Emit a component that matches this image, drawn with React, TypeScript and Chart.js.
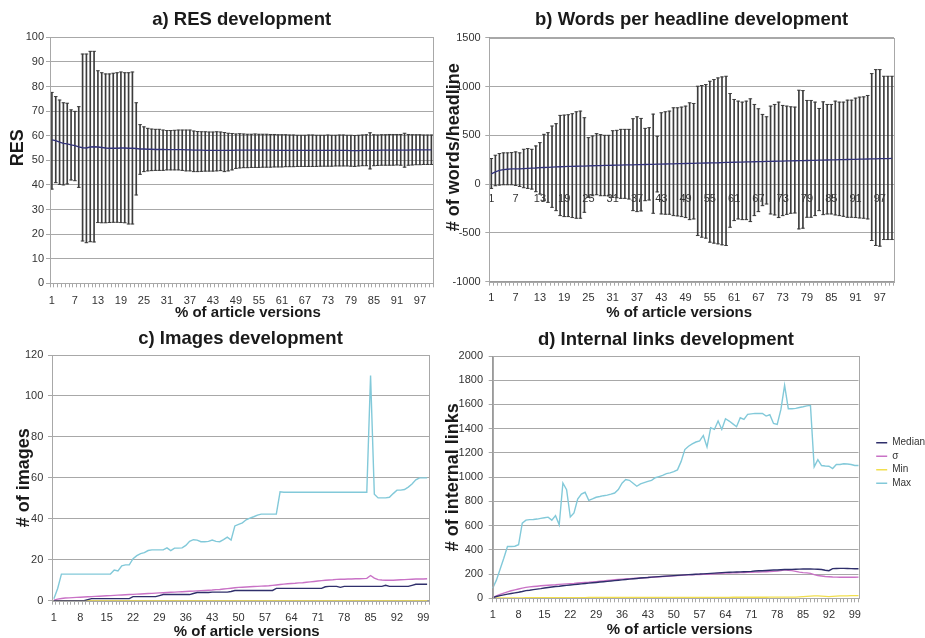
import React, { useEffect, useRef } from 'react';
import { Chart, registerables } from 'chart.js';

Chart.register(...registerables);

// ---------- categories & tick labels ----------
const categories = Array.from({ length: 100 }, (_, i) => String(i + 1));
const shownTicksAB = ['1', '7', '13', '19', '25', '31', '37', '43', '49', '55', '61', '67', '73', '79', '85', '91', '97'];
const shownTicksCD = ['1', '8', '15', '22', '29', '36', '43', '50', '57', '64', '71', '78', '85', '92', '99'];

// ---------- a) RES ----------
const resMean = [
  58.3, 58.0, 57.4, 56.9, 56.7, 56.3, 56.0, 55.5, 55.1, 55.0,
  55.4, 55.5, 55.4, 55.2, 55.0, 54.9, 54.9, 54.9, 55.0, 55.0,
  54.9, 54.9, 54.8, 54.6, 54.6, 54.5, 54.5, 54.4, 54.4, 54.4,
  54.3, 54.3, 54.3, 54.3, 54.3, 54.2, 54.2, 54.1, 54.1, 54.1,
  54.0, 54.0, 54.0, 54.0, 54.0, 54.0, 54.0, 54.0, 54.1, 54.1,
  54.1, 54.1, 54.1, 54.1, 54.1, 54.1, 54.1, 54.1, 54.0, 54.0,
  54.0, 54.0, 54.0, 54.0, 54.0, 54.0, 54.0, 54.0, 54.0, 54.0,
  54.0, 54.0, 54.0, 54.0, 54.0, 54.0, 54.0, 54.0, 53.9, 53.9,
  53.9, 54.0, 54.0, 54.0, 54.0, 54.0, 54.1, 54.1, 54.1, 54.1,
  54.1, 54.1, 54.1, 54.1, 54.2, 54.2, 54.2, 54.2, 54.2, 54.2,
];
const resHigh = [
  77.6, 75.9, 74.5, 73.4, 73.2, 70.5, 69.9, 71.8, 93.2, 93.2,
  94.3, 94.3, 86.4, 85.6, 85.1, 85.1, 85.4, 85.6, 85.9, 85.6,
  85.6, 85.9, 73.4, 64.5, 63.6, 63.0, 62.7, 62.6, 62.6, 62.3,
  62.1, 62.1, 62.2, 62.3, 62.3, 62.3, 62.3, 61.9, 61.7, 61.6,
  61.6, 61.5, 61.5, 61.6, 61.5, 61.3, 61.0, 60.9, 60.7, 60.8,
  60.7, 60.6, 60.6, 60.7, 60.6, 60.6, 60.6, 60.5, 60.5, 60.4,
  60.4, 60.4, 60.3, 60.3, 60.2, 60.2, 60.2, 60.3, 60.3, 60.2,
  60.2, 60.2, 60.3, 60.2, 60.2, 60.3, 60.3, 60.2, 60.2, 60.1,
  60.2, 60.3, 60.4, 61.2, 60.4, 60.3, 60.4, 60.4, 60.5, 60.5,
  60.5, 60.5, 61.0, 60.5, 60.4, 60.4, 60.4, 60.3, 60.3, 60.3,
];
const resLow = [
  38.3, 40.9, 40.2, 40.0, 40.4, 42.0, 41.7, 39.0, 17.2, 16.5,
  16.9, 16.8, 24.7, 24.6, 24.6, 24.7, 24.8, 24.8, 24.7, 24.6,
  24.1, 24.1, 35.9, 44.3, 45.4, 45.7, 45.8, 45.9, 45.9, 45.9,
  46.1, 46.1, 46.1, 46.1, 45.9, 45.7, 45.7, 45.4, 45.4, 45.5,
  45.6, 45.6, 45.6, 45.7, 45.8, 45.4, 45.7, 46.1, 46.7, 46.9,
  47.0, 47.0, 47.1, 47.1, 47.1, 47.2, 47.2, 47.2, 47.3, 47.3,
  47.3, 47.4, 47.4, 47.4, 47.5, 47.5, 47.5, 47.5, 47.5, 47.5,
  47.6, 47.6, 47.6, 47.6, 47.7, 47.7, 47.7, 47.7, 47.6, 47.5,
  47.7, 47.8, 47.8, 46.5, 47.8, 47.9, 48.0, 48.0, 48.0, 48.0,
  48.1, 48.0, 47.2, 48.0, 48.1, 48.2, 48.2, 48.3, 48.3, 48.3,
];

// ---------- b) Words per headline ----------
const wphMean = [
  105, 126, 140, 148, 152, 155, 156, 157, 159, 161,
  163, 165, 168, 170, 172, 174, 176, 178, 180, 181,
  182, 183, 184, 185, 187, 188, 189, 190, 191, 192,
  193, 194, 195, 196, 197, 198, 199, 200, 201, 202,
  203, 204, 205, 206, 207, 208, 209, 210, 211, 212,
  213, 214, 215, 216, 217, 218, 219, 221, 222, 223,
  224, 225, 226, 227, 228, 229, 230, 231, 232, 233,
  234, 235, 236, 237, 238, 239, 240, 241, 242, 243,
  244, 245, 246, 247, 248, 249, 250, 251, 252, 253,
  254, 255, 256, 257, 258, 259, 260, 261, 262, 263,
];
const wphHigh = [
  262, 296, 313, 320, 320, 323, 330, 320, 357, 364,
  357, 391, 425, 510, 527, 595, 619, 704, 707, 711,
  721, 741, 748, 680, 476, 493, 517, 507, 500, 500,
  547, 551, 561, 561, 561, 670, 690, 673, 571, 578,
  717, 490, 731, 741, 748, 782, 782, 789, 799, 833,
  826, 1003, 1010, 1020, 1054, 1071, 1088, 1098, 1105, 928,
  867, 850, 840, 850, 874, 816, 772, 714, 690, 799,
  816, 840, 806, 799, 792, 789, 962, 958, 857, 857,
  840, 775, 843, 816, 816, 850, 840, 840, 860, 860,
  881, 891, 894, 908, 1132, 1173, 1173, 1105, 1105, 1105,
];
const wphLow = [
  -44, -17, -10, -7, -7, -7, -14, -24, -37, -44,
  -51, -78, -102, -170, -187, -238, -272, -323, -333, -333,
  -343, -350, -350, -289, -136, -119, -109, -119, -119, -122,
  -136, -140, -146, -146, -153, -272, -282, -275, -170, -163,
  -299, -80, -306, -309, -309, -323, -326, -333, -343, -364,
  -357, -527, -544, -554, -595, -605, -612, -622, -629, -442,
  -374, -357, -364, -364, -384, -323, -282, -221, -204, -306,
  -316, -343, -323, -310, -299, -296, -459, -452, -340, -340,
  -323, -272, -313, -306, -306, -316, -323, -330, -340, -340,
  -343, -347, -350, -357, -578, -629, -636, -568, -568, -568,
];

// ---------- c) Images ----------
const imgMedian = [
  0, 0, 0, 0, 0, 0, 0, 0, 0, 0.5,
  1, 1, 1, 1, 1, 1, 1, 1, 1, 1,
  1, 2, 2, 2, 2, 2, 2, 2, 2.5, 3,
  3, 3, 3, 3, 3, 3, 3, 3.5, 4, 4,
  4, 4, 4.2, 4.2, 4.2, 4.2, 4.2, 4.5, 5, 5,
  5, 5, 5, 5, 5, 5, 5, 5, 5, 6,
  6, 6, 6, 6, 6, 6, 6, 6, 6, 6,
  6, 6, 6.8, 7, 7, 7, 6.5, 7, 7, 7,
  7, 7, 7, 7, 7, 7, 7, 7, 7.5, 7,
  7, 7, 7, 7, 7, 7.5, 8, 8, 8, 8,
];
const imgSd = [
  0.3, 0.8, 1.1, 1.3, 1.4, 1.5, 1.6, 1.7, 1.8, 1.9,
  2.0, 2.1, 2.2, 2.3, 2.4, 2.5, 2.6, 2.7, 2.8, 2.9,
  3.0, 3.1, 3.2, 3.3, 3.4, 3.5, 3.6, 3.7, 3.8, 3.9,
  4.0, 4.1, 4.2, 4.3, 4.4, 4.5, 4.6, 4.7, 4.8, 4.9,
  5.0, 5.1, 5.2, 5.4, 5.5, 5.7, 5.9, 6.1, 6.3, 6.5,
  6.6, 6.7, 6.8, 6.9, 7.0, 7.1, 7.2, 7.3, 7.5, 7.7,
  7.9, 8.1, 8.3, 8.4, 8.5, 8.7, 8.8, 9.0, 9.2, 9.4,
  9.6, 9.8, 10.0, 10.1, 10.2, 10.4, 10.5, 10.5, 10.6, 10.6,
  10.7, 10.7, 10.8, 10.9, 12.3, 11.0, 10.3, 10.1, 10.0, 10.0,
  10.0, 10.1, 10.2, 10.3, 10.4, 10.5, 10.6, 10.6, 10.6, 10.7,
];
const imgMin = [
  0, 0, 0, 0, 0, 0, 0, 0, 0, 0,
  0, 0, 0, 0, 0, 0, 0, 0, 0, 0,
  0, 0, 0, 0, 0, 0, 0, 0, 0, 0,
  0, 0, 0, 0, 0, 0, 0, 0, 0, 0,
  0, 0, 0, 0, 0, 0, 0, 0, 0, 0,
  0, 0, 0, 0, 0, 0, 0, 0, 0, 0,
  0, 0, 0, 0, 0, 0, 0, 0, 0, 0,
  0, 0, 0, 0, 0, 0, 0, 0, 0, 0,
  0, 0, 0, 0, 0, 0, 0, 0, 0, 0,
  0, 0, 0, 0, 0, 0, 0, 0, 0, 0,
];
const imgMax = [
  1, 6, 13, 13, 13, 13, 13, 13, 13, 13,
  13, 13, 13, 13, 13, 13, 15, 14.5, 17, 17.5,
  17.5, 20.5, 22, 23, 23.5, 24.5, 24.8, 24.8, 24.8, 24.8,
  25.8, 24.5, 25.7, 25.7, 25.8, 27, 29, 29.8, 29.6, 28.8,
  28.8, 29, 29.6, 29, 28.8, 29.8, 31, 29.6, 36.5, 37.3,
  38, 39.5, 40.3, 41, 41.8, 42.3, 42.3, 42.3, 42.3, 42.3,
  53.2, 53, 53, 53, 53, 53, 53, 53, 53, 53,
  53, 53, 53, 53, 53, 53, 53, 53, 53, 53,
  53, 53, 53, 53, 110, 52, 50.2, 50.2, 50.2, 50.5,
  52.3, 54, 54, 54.3, 55.5, 57, 59, 60, 60, 60,
];

// ---------- d) Internal links ----------
const linkMedian = [
  5, 15, 22, 28, 34, 40, 45, 50, 56, 63,
  67, 72, 76, 80, 85, 89, 93, 97, 100, 104,
  107, 110, 113, 116, 119, 122, 125, 128, 131, 134,
  137, 140, 143, 146, 149, 152, 155, 158, 161, 164,
  167, 170, 172, 175, 177, 179, 181, 183, 185, 187,
  189, 191, 193, 195, 197, 199, 200, 202, 204, 206,
  208, 210, 212, 214, 215, 216, 217, 218, 219, 220,
  222, 225, 227, 228, 230, 232, 233, 234, 236, 238,
  238, 239, 240, 241, 242, 243, 242, 241, 240, 238,
  232, 228, 245, 246, 247, 247, 246, 245, 244, 244,
];
const linkSd = [
  5, 20, 32, 43, 53, 62, 70, 77, 84, 90,
  94, 97, 100, 103, 106, 108, 110, 112, 115, 117,
  119, 121, 123, 126, 128, 130, 132, 135, 138, 141,
  144, 147, 150, 153, 156, 158, 160, 162, 164, 166,
  168, 170, 172, 174, 176, 178, 180, 182, 183, 185,
  187, 189, 191, 193, 194, 196, 197, 198, 199, 201,
  203, 205, 207, 208, 209, 210, 211, 212, 213, 214,
  215, 216, 217, 218, 219, 220, 222, 224, 228, 236,
  232, 228, 222, 216, 212, 210, 206, 196, 188, 184,
  180, 178, 176, 175, 174, 174, 174, 174, 174, 175,
];
const linkMin = [
  1, 2, 2, 2, 3, 3, 3, 3, 3, 4,
  4, 4, 4, 4, 4, 4, 5, 5, 5, 5,
  5, 5, 5, 5, 5, 5, 6, 6, 6, 6,
  6, 6, 6, 6, 6, 6, 6, 6, 7, 7,
  7, 7, 7, 7, 7, 7, 7, 7, 7, 7,
  8, 8, 8, 8, 8, 8, 8, 8, 8, 8,
  8, 8, 8, 8, 8, 9, 9, 9, 9, 9,
  9, 9, 9, 9, 9, 10, 10, 10, 10, 10,
  10, 10, 10, 12, 14, 16, 18, 20, 20, 18,
  16, 14, 16, 18, 20, 20, 20, 22, 22, 22,
];
const linkMax = [
  83, 150, 240, 330, 428, 428, 430, 442, 620, 645,
  649, 650, 654, 660, 665, 670, 645, 682, 607, 952,
  897, 671, 704, 820, 860, 875, 809, 820, 834, 840,
  847, 852, 860, 869, 897, 950, 980, 974, 950, 925,
  945, 955, 965, 974, 995, 1005, 1015, 1029, 1035, 1045,
  1060, 1130, 1228, 1255, 1275, 1290, 1300, 1344, 1250, 1408,
  1394, 1463, 1394, 1482, 1463, 1440, 1416, 1490, 1477, 1518,
  1522, 1526, 1526, 1526, 1504, 1515, 1443, 1435, 1559, 1758,
  1565, 1565, 1568, 1575, 1581, 1588, 1592, 1085, 1145, 1096,
  1092, 1090, 1071, 1104, 1105, 1110, 1108, 1104, 1096, 1096,
];

// ---------- styling ----------
const FONT = "'Liberation Sans', Arial, Helvetica, sans-serif";
const GRID = '#a8a8a8';
const AXIS = '#9a9a9a';
const TEXT = '#333333';
const TITLE = '#1a1a1a';
const MEAN_COLOR = '#34347c';
const ERR_COLOR = '#3c3c3c';
const C_MEDIAN = '#2f2f6b';
const C_SD = '#c972c6';
const C_MIN = '#f2df4e';
const C_MAX = '#82c9d9';
const X_TITLE = '% of article versions';

const framePlugin = {
  id: 'frame',
  afterDraw(chart: any) {
    const { ctx, chartArea: a } = chart;
    ctx.save();
    ctx.strokeStyle = GRID;
    ctx.lineWidth = 1;
    ctx.strokeRect(Math.round(a.left) + 0.5, Math.round(a.top) + 0.5, Math.round(a.right - a.left), Math.round(a.bottom - a.top));
    ctx.restore();
  },
};

function xAxis(shown: string[], offset: boolean, padding: number, height: number, titleText: string) {
  return {
    type: 'category',
    offset,
    grid: { display: true, drawOnChartArea: false, drawTicks: true, tickLength: 4, color: GRID, offset },
    border: { display: true, color: AXIS },
    ticks: {
      autoSkip: false, maxRotation: 0, minRotation: 0, padding, color: TEXT,
      font: { family: FONT, size: 11 },
      callback: (_v: any, i: number) => (shown.includes(categories[i]) ? categories[i] : ''),
    },
    title: {
      display: true, text: titleText, color: TITLE,
      font: { family: FONT, size: 15, weight: 'bold' }, padding: { top: 0, bottom: 0 },
    },
    afterFit: (s: any) => { s.height = height; },
  };
}

function yAxis(min: number, max: number, step: number, title: string, width: number, tickPad: number, titlePad: number) {
  return {
    type: 'linear', min, max,
    ticks: {
      stepSize: step, padding: tickPad, color: TEXT, font: { family: FONT, size: 11 },
      callback: (v: any) => String(v),
    },
    grid: { color: GRID, tickLength: 4, drawTicks: true },
    border: { color: AXIS },
    title: {
      display: true, text: title, color: TITLE,
      font: { family: FONT, size: 18, weight: 'bold' }, padding: { top: titlePad, bottom: 0 },
    },
    afterFit: (s: any) => { s.width = width; },
  };
}

function chartTitle(text: string, top: number, bottom: number, fullSize: boolean) {
  return {
    display: true, text, color: TITLE, fullSize,
    font: { family: FONT, size: 18.5, weight: 'bold' },
    padding: { top, bottom },
  };
}

function errorDatasets(mean: number[], high: number[], low: number[]) {
  return [
    { type: 'line', label: 'mean', data: mean, borderColor: MEAN_COLOR, borderWidth: 1.3, pointRadius: 0, order: 0 },
    { type: 'line', label: 'high', data: high, showLine: false, pointStyle: 'line', pointRadius: 1.8, borderColor: ERR_COLOR, borderWidth: 1, order: 1 },
    { type: 'line', label: 'low', data: low, showLine: false, pointStyle: 'line', pointRadius: 1.8, borderColor: ERR_COLOR, borderWidth: 1, order: 1 },
    { type: 'bar', label: 'range', data: low.map((lo, i) => [lo, high[i]]), backgroundColor: ERR_COLOR, barThickness: 1, order: 3 },
  ];
}

function lineDatasets(median: number[], sd: number[], min: number[], max: number[]) {
  const base = { pointRadius: 0, borderWidth: 1.4, tension: 0 };
  return [
    { ...base, label: 'Median', data: median, borderColor: C_MEDIAN, order: 0 },
    { ...base, label: 'σ', data: sd, borderColor: C_SD, order: 1 },
    { ...base, label: 'Min', data: min, borderColor: C_MIN, order: 2 },
    { ...base, label: 'Max', data: max, borderColor: C_MAX, order: 3 },
  ];
}

const common = {
  responsive: false,
  maintainAspectRatio: false,
  animation: false,
  devicePixelRatio: 1,
  events: [],
};

function configA() {
  return {
    type: 'bar',
    data: { labels: categories, datasets: errorDatasets(resMean, resHigh, resLow) },
    options: {
      ...common,
      layout: { padding: { left: 0, right: 6.7, top: 0, bottom: 0 } },
      plugins: {
        legend: { display: false }, tooltip: { enabled: false },
        title: chartTitle('a) RES development', 8.9, 6.2, false),
      },
      scales: {
        x: xAxis(shownTicksAB, true, 7, 38.7, '   ' + X_TITLE),
        y: yAxis(0, 100, 10, '     RES', 50, 2, 7.7),
      },
    },
    plugins: [framePlugin],
  };
}

function configB() {
  const x2 = {
    type: 'category', position: { y: 0 }, offset: true, z: 1,
    grid: { display: false, drawTicks: false },
    border: { display: false },
    ticks: {
      autoSkip: false, maxRotation: 0, minRotation: 0, padding: 8, color: TEXT,
      font: { family: FONT, size: 11 },
      callback: (_v: any, i: number) => (shownTicksAB.includes(categories[i]) ? categories[i] : ''),
    },
  };
  return {
    type: 'bar',
    data: { labels: categories, datasets: errorDatasets(wphMean, wphHigh, wphLow) },
    options: {
      ...common,
      layout: { padding: { left: 0, right: 4, top: 0, bottom: 0 } },
      plugins: {
        legend: { display: false }, tooltip: { enabled: false },
        title: chartTitle('b) Words per headline development', 8.9, 6.6, false),
      },
      scales: {
        x: xAxis(shownTicksAB, true, 5.4, 40.3, X_TITLE + '      '),
        x2,
        y: yAxis(-1000, 1500, 500, '     # of words/headline', 49.3, 4.6, 3.2),
      },
    },
    plugins: [framePlugin],
  };
}

function configC() {
  return {
    type: 'line',
    data: { labels: categories, datasets: lineDatasets(imgMedian, imgSd, imgMin, imgMax) },
    options: {
      ...common,
      layout: { padding: { left: 0, right: 11, top: 0, bottom: 0 } },
      plugins: {
        legend: { display: false }, tooltip: { enabled: false },
        title: chartTitle('c) Images development', 7.9, 4.9, false),
      },
      scales: {
        x: xAxis(shownTicksCD, true, 6.7, 40.3, '   ' + X_TITLE),
        y: yAxis(0, 120, 20, '# of images', 52, 4.7, 13.2),
      },
    },
    plugins: [framePlugin],
  };
}

function configD() {
  return {
    type: 'line',
    data: { labels: categories, datasets: lineDatasets(linkMedian, linkSd, linkMin, linkMax) },
    options: {
      ...common,
      layout: { padding: { left: 0, right: 0, top: 0, bottom: 0 } },
      plugins: {
        tooltip: { enabled: false },
        title: chartTitle('d) Internal links development', 8.9, 4.9, true),
        legend: {
          display: true, position: 'right', align: 'start', fullSize: false,
          title: { display: true, text: '', font: { size: 1 }, padding: { top: 77, bottom: 0 } },
          labels: {
            usePointStyle: true, pointStyle: 'line', pointStyleWidth: 11, padding: 3.5,
            color: TEXT, font: { family: FONT, size: 10 },
          },
        },
      },
      scales: {
        x: xAxis(shownTicksCD, false, 6.1, 40.7, '  ' + X_TITLE),
        y: yAxis(0, 2000, 200, '# of internal links', 95.7, 5.7, 45.2),
        ySpacer: {
          type: 'linear', position: 'right', display: true,
          grid: { display: false, drawTicks: false }, border: { display: false }, ticks: { display: false },
          afterFit: (s: any) => { s.width = 14.2; },
        },
      },
    },
    plugins: [framePlugin],
  };
}

function ChartCanvas(props: { left: number; top: number; width: number; height: number; make: () => any }) {
  const ref = useRef<HTMLCanvasElement | null>(null);
  useEffect(() => {
    const chart = new Chart(ref.current as HTMLCanvasElement, props.make());
    return () => chart.destroy();
  }, []);
  return (
    <canvas
      ref={ref}
      width={props.width}
      height={props.height}
      style={{ position: 'absolute', left: props.left, top: props.top, width: props.width, height: props.height }}
    />
  );
}

export default function App() {
  return (
    <div style={{ position: 'fixed', left: 0, top: 0, width: 925, height: 638, overflow: 'hidden', background: '#ffffff' }}>
      <ChartCanvas left={0} top={0} width={440} height={322} make={configA} />
      <ChartCanvas left={440} top={0} width={460} height={322} make={configB} />
      <ChartCanvas left={0} top={320} width={440} height={321} make={configC} />
      <ChartCanvas left={397} top={320} width={538} height={319} make={configD} />
    </div>
  );
}
